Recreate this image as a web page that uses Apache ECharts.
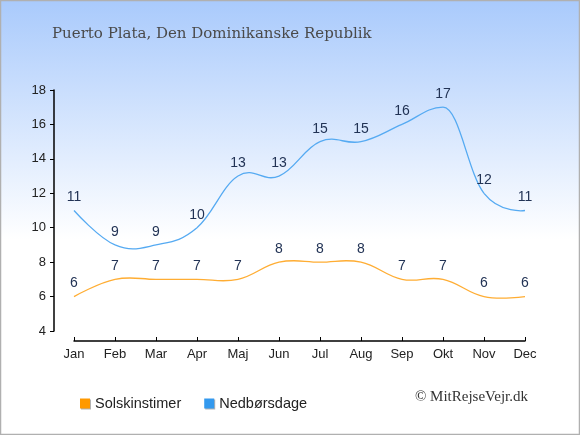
<!DOCTYPE html>
<html><head><meta charset="utf-8">
<script src="https://cdn.jsdelivr.net/npm/echarts@6/dist/echarts.min.js"></script>
<style>html,body{margin:0;padding:0;}#c{width:580px;height:435px;}</style>
</head><body><div id="c"></div>
<script>
const months = ['Jan','Feb','Mar','Apr','Maj','Jun','Jul','Aug','Sep','Okt','Nov','Dec'];
const sunHours = [6,7,7,7,7,8,8,8,7,7,6,6];
const rainDays = [11,9,9,10,13,13,15,15,16,17,12,11];
const yTicks = {min:4, max:18, interval:2};

const SUN_COLOR = '#ff9900', SUN_LINE = '#ffad33';
const RAIN_COLOR = '#3399ee', RAIN_LINE = '#55aaf2';

// spline segment renderer (control points computed in pixel space from the axis scales)
function splineRenderer(values, stroke) {
  return function (params, api) {
    const i = params.dataIndex;
    if (i === 0) return null;
    const pts = values.map((v, k) => api.coord([k, v]));
    const sm = 1.5, den = 2.5;
    function conts(k) {
      if (k <= 0 || k >= pts.length - 1) return null;
      const [lx, ly] = pts[k - 1], [px, py] = pts[k], [nx, ny] = pts[k + 1];
      const lcx = (sm * px + lx) / den, rcx = (sm * px + nx) / den;
      let lcy = (sm * py + ly) / den, rcy = (sm * py + ny) / den;
      const corr = ((rcy - lcy) * (rcx - px)) / (rcx - lcx) + py - rcy;
      lcy += corr; rcy += corr;
      const isExt = (py > ly && py > ny) || (py < ly && py < ny);
      if (isExt) { lcy = py; rcy = py; }
      return {lcx, lcy, rcx, rcy};
    }
    const a = pts[i - 1], b = pts[i];
    const ca = conts(i - 1), cb = conts(i);
    return {
      type: 'bezierCurve',
      shape: {
        x1: a[0], y1: a[1], x2: b[0], y2: b[1],
        cpx1: ca ? ca.rcx : a[0], cpy1: ca ? ca.rcy : a[1],
        cpx2: cb ? cb.lcx : b[0], cpy2: cb ? cb.lcy : b[1]
      },
      style: {stroke: stroke, fill: null, lineWidth: 1.3},
      silent: true
    };
  };
}

const chart = echarts.init(document.getElementById('c'));
const labelStyle = {show:true, position:'top', distance:6, color:'#223355', fontSize:14, fontFamily:'Liberation Sans, Arial, sans-serif'};
chart.setOption({
  animation: false,
  backgroundColor: {type:'linear', x:0, y:0, x2:0, y2:1, colorStops:[
    {offset:0, color:'#a9cafc'},{offset:0.55, color:'#ffffff'},{offset:1, color:'#ffffff'}]},
  title: {text:'Puerto Plata, Den Dominikanske Republik', left:47, top:22,
    textStyle:{fontFamily:'DejaVu Serif, serif', fontWeight:'normal', fontSize:15, color:'#4a4a4a'}},
  grid: {left:74, right:55, top:90, bottom:104},
  legend: {left:75, top:391, itemGap:23, itemWidth:10, itemHeight:10, icon:'rect',
    textStyle:{fontFamily:'Liberation Sans, Arial, sans-serif', fontSize:14.5, color:'#222'},
    data:[{name:'Solskinstimer', itemStyle:{color:SUN_COLOR, shadowColor:'rgba(0,0,0,0.3)', shadowOffsetX:1, shadowOffsetY:1}},
          {name:'Nedbørsdage', itemStyle:{color:RAIN_COLOR, shadowColor:'rgba(0,0,0,0.3)', shadowOffsetX:1, shadowOffsetY:1}}]},
  graphic: [{type:'text', right:52, top:390, style:{text:'© MitRejseVejr.dk', font:'15px "Liberation Serif", serif', fill:'#333'}},
    {type:'rect', shape:{x:0.5,y:0.5,width:579,height:434}, style:{fill:'none', stroke:'#b0b0b0', lineWidth:1.5}, silent:true}],
  xAxis: {type:'category', data:months, boundaryGap:false, offset:10,
    axisLine:{lineStyle:{color:'#000', width:1.5}},
    axisTick:{inside:true, length:4, lineStyle:{color:'#000'}},
    axisLabel:{color:'#222', fontSize:13, margin:7, fontFamily:'Liberation Sans, Arial, sans-serif'},
    splitLine:{show:false}},
  yAxis: {type:'value', min:yTicks.min, max:yTicks.max, interval:yTicks.interval, offset:20,
    axisLine:{show:true, lineStyle:{color:'#000', width:1.5}},
    axisTick:{show:true, length:4, lineStyle:{color:'#000'}},
    axisLabel:{color:'#222', fontSize:13, margin:8, fontFamily:'Liberation Sans, Arial, sans-serif'},
    splitLine:{show:false}},
  series: [
    {type:'custom', data:sunHours.map((v,i)=>[i,v]), encode:{x:0,y:1}, renderItem:splineRenderer(sunHours, SUN_LINE), z:2},
    {type:'custom', data:rainDays.map((v,i)=>[i,v]), encode:{x:0,y:1}, renderItem:splineRenderer(rainDays, RAIN_LINE), z:2},
    {name:'Solskinstimer', type:'line', data:sunHours, symbol:'circle', symbolSize:0,
      itemStyle:{color:SUN_COLOR}, lineStyle:{opacity:0}, label:labelStyle, z:3},
    {name:'Nedbørsdage', type:'line', data:rainDays, symbol:'circle', symbolSize:0,
      itemStyle:{color:RAIN_COLOR}, lineStyle:{opacity:0}, label:labelStyle, z:3}
  ]
});
</script></body></html>
